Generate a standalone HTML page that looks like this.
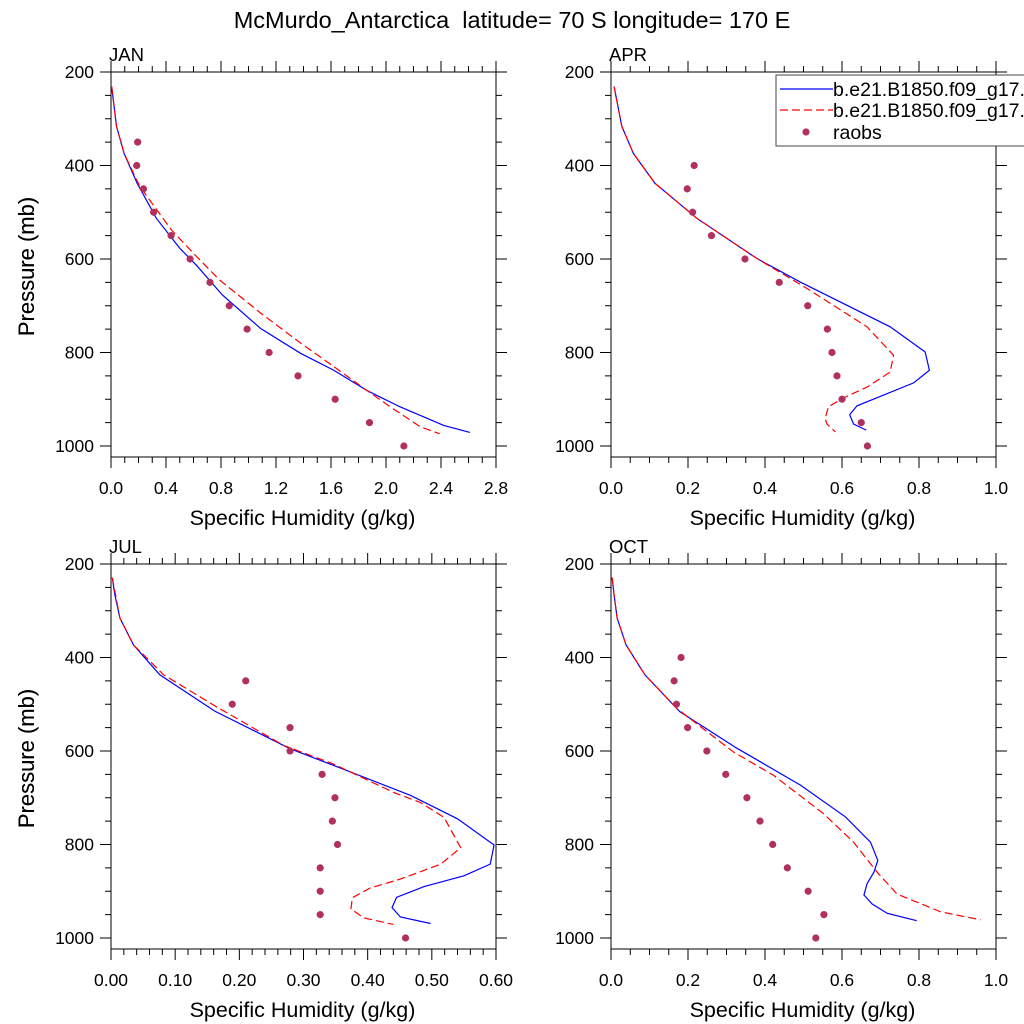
<!DOCTYPE html>
<html><head><meta charset="utf-8"><style>
html,body{margin:0;padding:0;background:#fff;}
svg{display:block;font-family:"Liberation Sans",Arial,sans-serif;}
</style></head><body>
<svg id="chart" width="1024" height="1024" viewBox="0 0 1024 1024" xmlns="http://www.w3.org/2000/svg">
<rect width="1024" height="1024" fill="#fff"/>
<text x="512" y="28" font-size="23.5" text-anchor="middle" style="white-space:pre">McMurdo_Antarctica  latitude= 70 S longitude= 170 E</text>
</svg>
<script>
// ---- data ----
const monthNames = ["JAN","APR","JUL","OCT"];
const xMaxes = [2.8, 1.0, 0.6, 1.0];
const xMajorSteps = [0.4, 0.2, 0.1, 0.2];
const xMinorSteps = [0.1, 0.05, 0.02, 0.05];
const xTickLabels = [
  ["0.0","0.4","0.8","1.2","1.6","2.0","2.4","2.8"],
  ["0.0","0.2","0.4","0.6","0.8","1.0"],
  ["0.00","0.10","0.20","0.30","0.40","0.50","0.60"],
  ["0.0","0.2","0.4","0.6","0.8","1.0"]
];
const yTickLabels = ["200","400","600","800","1000"];
const yTickValues = [200,400,600,800,1000];

const janBlueP = [231,316,374,438,513,577,613,677,749,802,838,881,916,956,971];
const janBlueQ = [0.005,0.04,0.095,0.19,0.33,0.50,0.62,0.81,1.09,1.38,1.62,1.86,2.10,2.42,2.61];
const janRedP = [231,316,374,445,538,588,645,716,780,830,881,916,959,974];
const janRedQ = [0.005,0.04,0.095,0.21,0.44,0.60,0.79,1.09,1.38,1.62,1.86,2.03,2.25,2.39];
const janObsP = [350,400,450,500,550,600,650,700,750,800,850,900,950,1000];
const janObsQ = [0.194,0.187,0.236,0.31,0.437,0.575,0.72,0.86,0.99,1.15,1.36,1.63,1.88,2.13];

const aprBlueP = [231,316,374,438,513,599,649,745,799,838,865,888,914,933,953,966];
const aprBlueQ = [0.008,0.028,0.058,0.114,0.223,0.379,0.491,0.725,0.816,0.827,0.786,0.717,0.639,0.62,0.63,0.663];
const aprRedP = [231,316,374,438,513,599,663,745,806,842,874,897,916,941,953,970];
const aprRedQ = [0.008,0.028,0.058,0.114,0.223,0.379,0.509,0.665,0.734,0.725,0.665,0.604,0.565,0.556,0.561,0.583];
const aprObsP = [400,450,500,550,600,650,700,750,800,850,900,950,1000];
const aprObsQ = [0.216,0.198,0.212,0.261,0.348,0.437,0.511,0.562,0.574,0.587,0.6,0.65,0.666];

const julBlueP = [229,266,316,373,437,515,595,631,695,745,801,842,867,890,913,935,955,969];
const julBlueQ = [0.002,0.006,0.014,0.035,0.076,0.162,0.279,0.347,0.467,0.54,0.597,0.591,0.55,0.488,0.445,0.438,0.451,0.498];
const julRedP = [229,316,373,437,506,588,628,689,710,742,807,842,874,893,914,938,957,971];
const julRedQ = [0.002,0.014,0.035,0.082,0.165,0.269,0.347,0.441,0.482,0.519,0.545,0.514,0.451,0.404,0.376,0.374,0.394,0.44];
const julObsP = [450,500,550,600,650,700,750,800,850,900,950,1000];
const julObsQ = [0.21,0.189,0.279,0.279,0.329,0.349,0.345,0.353,0.326,0.326,0.326,0.459];

const octBlueP = [229,266,316,373,437,516,594,673,741,795,834,859,884,908,927,947,963];
const octBlueQ = [0.003,0.008,0.016,0.039,0.088,0.179,0.327,0.492,0.609,0.674,0.693,0.683,0.665,0.657,0.678,0.717,0.794];
const octRedP = [229,266,316,373,437,509,602,652,734,795,859,906,944,961];
const octRedQ = [0.003,0.008,0.016,0.039,0.088,0.171,0.318,0.422,0.552,0.63,0.691,0.743,0.856,0.96];
const octObsP = [400,450,500,550,600,650,700,750,800,850,900,950,1000];
const octObsQ = [0.182,0.164,0.170,0.199,0.249,0.298,0.353,0.387,0.42,0.458,0.512,0.553,0.532];

const blueP = [janBlueP, aprBlueP, julBlueP, octBlueP];
const blueQ = [janBlueQ, aprBlueQ, julBlueQ, octBlueQ];
const redP = [janRedP, aprRedP, julRedP, octRedP];
const redQ = [janRedQ, aprRedQ, julRedQ, octRedQ];
const obsP = [janObsP, aprObsP, julObsP, octObsP];
const obsQ = [janObsQ, aprObsQ, julObsQ, octObsQ];

// ---- drawing ----
const NS = "http://www.w3.org/2000/svg";
const svg = document.getElementById("chart");
function mk(tag, attrs, parent){
  const e = document.createElementNS(NS, tag);
  for (const k in attrs) e.setAttribute(k, attrs[k]);
  (parent||svg).appendChild(e);
  return e;
}
const origins = [[111,72],[611,72],[111,564],[611,564]];
const W = 385, H = 385, PTOP = 200, PXPERMB = 0.4675;

for (let i = 0; i < 4; i++) {
  const [x0, y0] = origins[i];
  const xmax = xMaxes[i];
  const sx = q => x0 + q / xmax * W;
  const sy = p => y0 + (p - PTOP) * PXPERMB;
  const g = mk("g", {});
  
  

  const tg = mk("g", {stroke:"#000","stroke-width":1}, g);
  const nMinor = Math.round(xmax / xMinorSteps[i]);
  const ratio = Math.round(xMajorSteps[i] / xMinorSteps[i]);
  for (let k = 0; k <= nMinor; k++) {
    const x = sx(k * xMinorSteps[i]);
    const len = (k % ratio === 0) ? 11 : 6;
    mk("line", {x1:x, x2:x, y1:y0, y2:y0-len}, tg);
    mk("line", {x1:x, x2:x, y1:y0+H, y2:y0+H+len}, tg);
  }
  for (let p = 200; p <= 1000; p += 50) {
    const y = sy(p);
    const len = (p % 200 === 0) ? 11 : 6;
    mk("line", {x1:x0, x2:x0-len, y1:y, y2:y}, tg);
    mk("line", {x1:x0+W, x2:x0+W+len, y1:y, y2:y}, tg);
  }
  const fr = mk("rect", {x:x0, y:y0, width:W, height:H, fill:"none", stroke:"#000", "stroke-width":1}, g);
  
  

  xTickLabels[i].forEach((lab, k) => {
    const t = mk("text", {x:sx(k*xMajorSteps[i]), y:y0+H+37, "font-size":17.5, "text-anchor":"middle"}, g);
    
    
    t.textContent = lab;
  });
  yTickLabels.forEach((lab, k) => {
    const t = mk("text", {x:x0-17, y:sy(yTickValues[k])+6, "font-size":17.5, "text-anchor":"end"}, g);
    
    
    t.textContent = lab;
  });
  const pl = mk("text", {x:x0-2, y:y0-11, "font-size":18.5}, g);
  
  
  pl.textContent = monthNames[i];
  const xt = mk("text", {x:x0+W/2-1, y:y0+H+68, "font-size":21.5, "text-anchor":"middle"}, g);
  
  
  xt.textContent = "Specific Humidity (g/kg)";
  const cy = y0 + H/2 + 2;
  const yt = mk("text", {x:34, y:cy, "font-size":22, "text-anchor":"middle", transform:"rotate(-90 34 "+cy+")"}, g);
  
  
  yt.textContent = "Pressure (mb)";

  const bl = mk("polyline", {fill:"none", stroke:"#0000ff", "stroke-width":1.2,
    points: blueP[i].map((p,k)=>sx(blueQ[i][k])+","+sy(p)).join(" ")}, g);
  
  
  const rl = mk("polyline", {fill:"none", stroke:"#ff0000", "stroke-width":1.2, "stroke-dasharray":"8,4",
    points: redP[i].map((p,k)=>sx(redQ[i][k])+","+sy(p)).join(" ")}, g);
  
  
  obsP[i].forEach((p,k) => {
    const c = mk("circle", {cx:sx(obsQ[i][k]), cy:sy(p), r:3.6, fill:"#b03060"}, g);
    
    
  });
}

const lg = mk("g", {});


mk("rect", {x:776, y:75, width:270, height:71, fill:"#fff", stroke:"#444", "stroke-width":1}, lg);
mk("line", {x1:780, x2:833, y1:89, y2:89, stroke:"#0000ff", "stroke-width":1.2}, lg);
mk("line", {x1:780, x2:833, y1:110, y2:110, stroke:"#ff0000", "stroke-width":1.2, "stroke-dasharray":"8,4"}, lg);
mk("circle", {cx:806, cy:132, r:3.6, fill:"#b03060"}, lg);
const l1 = mk("text", {x:833, y:96, "font-size":19.5}, lg);


l1.textContent = "b.e21.B1850.f09_g17.";
const l2 = mk("text", {x:833, y:117, "font-size":19.5}, lg);


l2.textContent = "b.e21.B1850.f09_g17.";
const l3 = mk("text", {x:833, y:139, "font-size":19.5}, lg);


l3.textContent = "raobs";
</script>
</body></html>
